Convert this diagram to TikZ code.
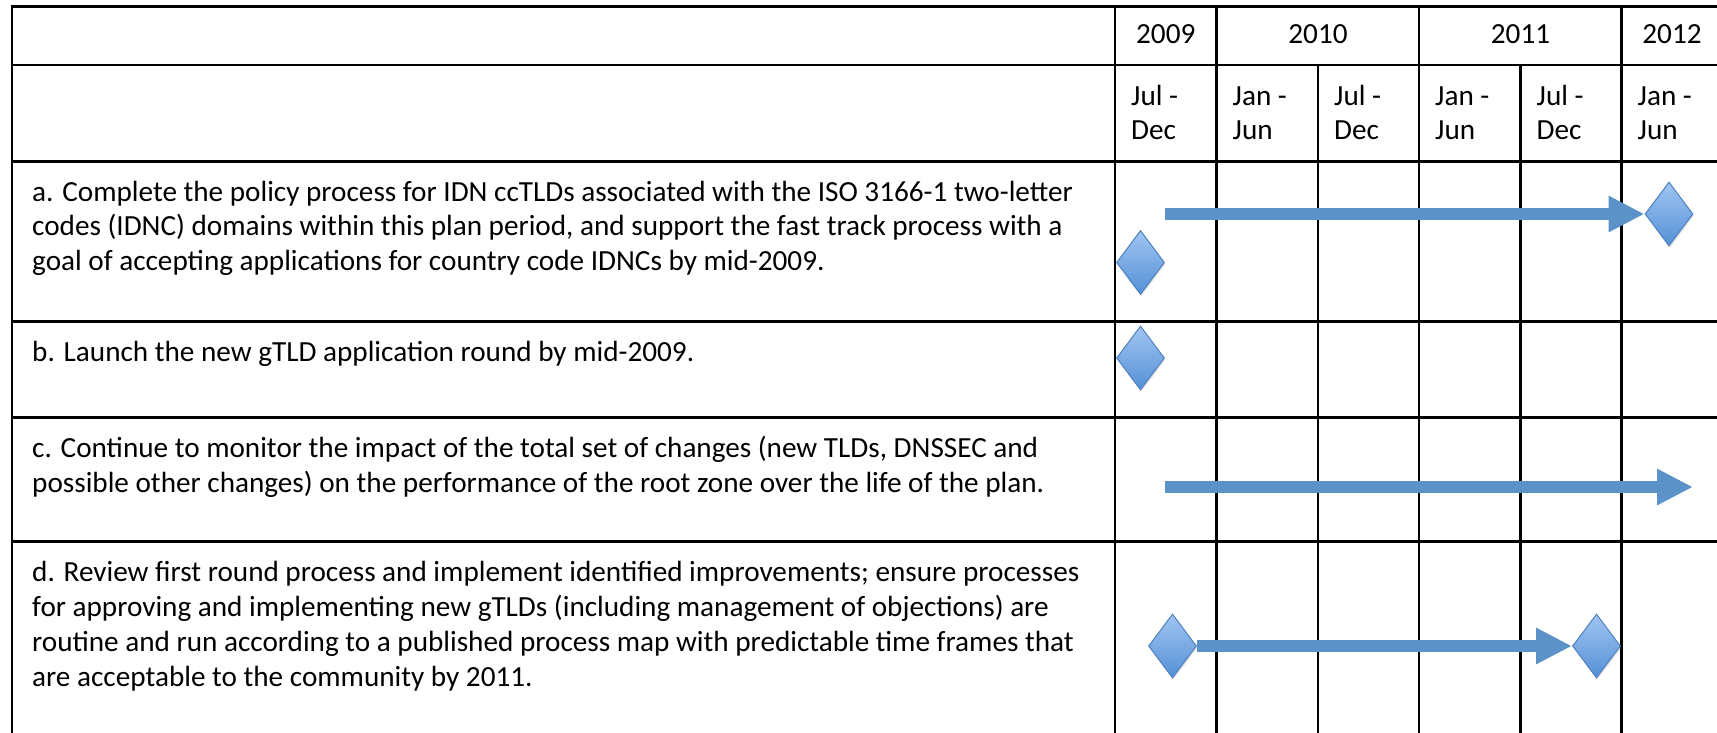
\documentclass[tikz,border=0pt]{standalone}
\usepackage{fontspec}
\setmainfont{Carlito}
\usetikzlibrary{shapes.geometric,arrows.meta,shadows}
\definecolor{barblue}{RGB}{91,147,201}
\definecolor{msedge}{RGB}{79,129,189}
\definecolor{mstop}{RGB}{160,197,243}
\definecolor{msbot}{RGB}{84,144,215}
\begin{document}
\begin{tikzpicture}[x=1pt,y=-1pt,
  grid/.style={line width=2.6pt,draw=black,line cap=rect},
  milestone/.style={diamond,draw=msedge,line width=1pt,top color=mstop,bottom color=msbot,
    minimum width=48pt,minimum height=64pt,inner sep=0pt,
    drop shadow={opacity=0.2,shadow xshift=1pt,shadow yshift=-2pt}},
  bar/.style={line width=12pt,draw=barblue,-{Triangle[length=36pt,width=34pt]}},
  rowtext/.style={anchor=north west,inner sep=0pt,align=left,
    font=\fontsize{29.2}{34.7}\selectfont},
  yeartext/.style={anchor=base,inner sep=0pt,font=\fontsize{29.2}{34.7}\selectfont},
  halftext/.style={anchor=north west,inner sep=0pt,align=left,
    font=\fontsize{29.2}{34}\selectfont}]
\useasboundingbox (0,0) rectangle (1717,732);
% grid
\foreach \y in {6.5,65,161.5,321.5,417.5,541.7}
  \draw[grid] (12,\y) -- (1717,\y);
\foreach \x in {12,1115,1216.5,1419,1621.5}
  \draw[grid] (\x,6.5) -- (\x,732);
\foreach \x in {1318,1520.5}
  \draw[grid] (\x,65) -- (\x,732);
% year headers
\node[yeartext] (y2009) at (1165.75,43) {2009};
\node[yeartext] (y2010) at (1318,43) {2010};
\node[yeartext] (y2011) at (1520.5,43) {2011};
\node[yeartext] (y2012) at (1672,43) {2012};
% half-year headers
\node[halftext] (h1) at (1131,79) {\rule{0pt}{26pt}Jul -\\Dec};
\node[halftext] (h2) at (1232.5,79) {\rule{0pt}{26pt}Jan -\\Jun};
\node[halftext] (h3) at (1334,79) {\rule{0pt}{26pt}Jul -\\Dec};
\node[halftext] (h4) at (1435,79) {\rule{0pt}{26pt}Jan -\\Jun};
\node[halftext] (h5) at (1536.5,79) {\rule{0pt}{26pt}Jul -\\Dec};
\node[halftext] (h6) at (1637.5,79) {\rule{0pt}{26pt}Jan -\\Jun};
% row texts
\node[rowtext] (ta) at (32,175) {\rule{0pt}{26pt}a. Complete the policy process for IDN ccTLDs associated with the ISO 3166-1 two-letter\\
codes (IDNC) domains within this plan period, and support the fast track process with a\\
goal of accepting applications for country code IDNCs by mid-2009.};
\node[rowtext] (tb) at (32,335) {\rule{0pt}{26pt}b. Launch the new gTLD application round by mid-2009.};
\node[rowtext] (tc) at (32,431.5) {\rule{0pt}{26pt}c. Continue to monitor the impact of the total set of changes (new TLDs, DNSSEC and\\
possible other changes) on the performance of the root zone over the life of the plan.};
\node[rowtext] (td) at (32,555.7) {\rule{0pt}{26pt}d. Review first round process and implement identified improvements; ensure processes\\
for approving and implementing new gTLDs (including management of objections) are\\
routine and run according to a published process map with predictable time frames that\\
are acceptable to the community by 2011.};
% milestones
\node[milestone] (a1) at (1140.5,262.5) {};
\node[milestone] (a2) at (1669,214) {};
\node[milestone] (b1) at (1140.5,358) {};
\node[milestone] (d1) at (1172.5,646) {};
\node[milestone] (d2) at (1596.5,646) {};
\coordinate (astart) at (1165,214);
\coordinate (cstart) at (1165,487);
\coordinate (cend) at (1693,487);
% bars
\draw[bar] (astart) -- (a2.west);
\draw[bar] (cstart) -- (cend);
\draw[bar] (d1.east) -- (d2.west);
\end{tikzpicture}
\end{document}
